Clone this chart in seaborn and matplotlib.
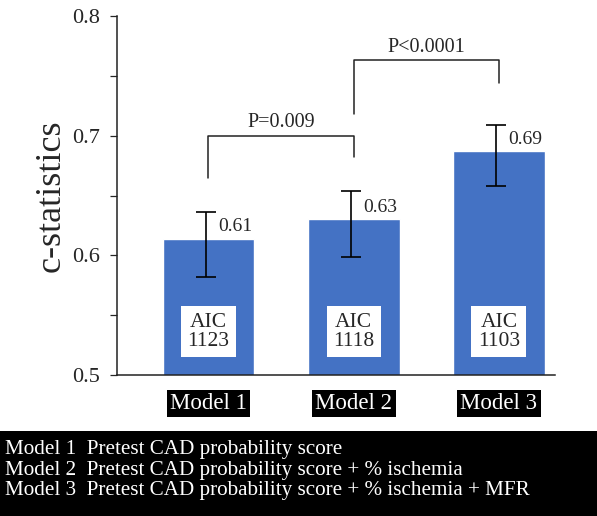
"""c-statistics by model, bar chart with confidence intervals and AIC boxes."""

import matplotlib.pyplot as plt
from matplotlib.patches import Rectangle
from matplotlib.ticker import MultipleLocator
import seaborn as sns
import pandas as pd

models = ["Model 1", "Model 2", "Model 3"]
c_stat = [0.614, 0.630, 0.687]
ci_low = [0.582, 0.599, 0.658]
ci_high = [0.636, 0.654, 0.709]
value_labels = ["0.61", "0.63", "0.69"]
aic = [1123, 1118, 1103]

# comparisons: (left model, right model, left start, bar height, right start, label)
comparisons = [
    (0, 1, 0.665, 0.700, 0.682, "P=0.009"),
    (1, 2, 0.718, 0.763, 0.744, "P<0.0001"),
]

descriptions = [
    "Model 1  Pretest CAD probability score",
    "Model 2  Pretest CAD probability score + % ischemia",
    "Model 3  Pretest CAD probability score + % ischemia + MFR",
]

sns.set_style("ticks")
plt.rcParams["font.family"] = ["Liberation Serif", "DejaVu Serif"]

df = pd.DataFrame({"model": models, "c": c_stat})

fig = plt.figure(figsize=(5.97, 5.16), dpi=100)
ax = fig.add_axes([117 / 597, 141 / 516, 438 / 597, 359 / 516])

sns.barplot(data=df, x="model", y="c", color="#4472C4", saturation=1,
            width=0.633, errorbar=None, ax=ax)

xs = range(len(models))
err_x = [x - 0.02 for x in xs]
yerr = [[c - lo for c, lo in zip(c_stat, ci_low)],
        [hi - c for c, hi in zip(c_stat, ci_high)]]
ax.errorbar(err_x, c_stat, yerr=yerr, fmt="none", ecolor="black",
            elinewidth=1.2, capsize=7.5, capthick=1.2, zorder=3)

for x, c, lab in zip(xs, c_stat, value_labels):
    ax.text(x + 0.065, c + 0.003, lab, fontsize=14, ha="left", va="bottom")

for x, a in zip(xs, aic):
    ax.text(x, 0.536, f"AIC\n{a}", fontsize=15.5, ha="center", va="center",
            linespacing=1.0,
            bbox=dict(boxstyle="square,pad=0.3", fc="white", ec="none"))

for i, j, y_left, y_top, y_right, label in comparisons:
    ax.plot([i, i, j, j], [y_left, y_top, y_top, y_right], color="#222222", lw=1.1)
    ax.text((i + j) / 2, y_top + 0.003, label, fontsize=14.5, ha="center", va="bottom")

ax.set_ylim(0.5, 0.8)
ax.set_xlim(-0.63, 2.386)
ax.yaxis.set_major_locator(MultipleLocator(0.1))
ax.yaxis.set_minor_locator(MultipleLocator(0.05))
ax.tick_params(axis="y", which="both", direction="out", length=5, width=0.9,
               labelsize=16, pad=7)
ax.tick_params(axis="x", length=0, pad=13)
ax.set_yticklabels([f"{t:.1f}" for t in ax.get_yticks()])
for lab in ax.get_xticklabels():
    lab.set_fontsize(16.5)
    lab.set_color("white")
    lab.set_bbox(dict(boxstyle="square,pad=0.15", fc="black", ec="none"))

ax.set_xlabel("")
ax.set_ylabel("c-statistics", fontsize=26)
ax.yaxis.set_label_coords(-0.113, 0.5)
sns.despine(ax=ax)
for sp in ["left", "bottom"]:
    ax.spines[sp].set_linewidth(1.1)
    ax.spines[sp].set_color("#222222")

# description panel at the bottom
fig.patches.append(Rectangle((0, 0), 1, 85 / 516, transform=fig.transFigure,
                             facecolor="black", edgecolor="none"))
for k, line in enumerate(descriptions):
    fig.text(5 / 597, 1 - (454 + 20.5 * k) / 516, line, color="white",
             fontsize=15.2, ha="left", va="baseline")

fig.savefig("out.png", dpi=100)
